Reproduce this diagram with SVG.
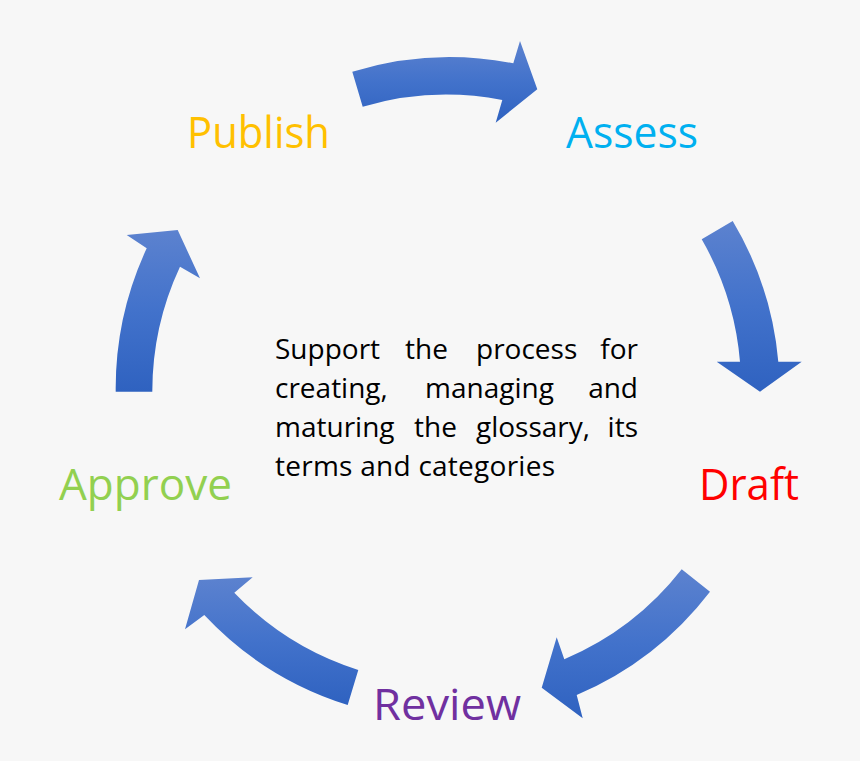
<svg xmlns="http://www.w3.org/2000/svg" width="860" height="761" viewBox="0 0 860 761">
<defs>
<linearGradient id="g" x1="0" y1="0" x2="0" y2="1">
<stop offset="0" stop-color="#5c82cf"/>
<stop offset="0.5" stop-color="#4272cb"/>
<stop offset="1" stop-color="#2f62c0"/>
</linearGradient>
<style>
.arrow{fill:url(#g);stroke:none}
.lbl{font-family:"Open Sans","Noto Sans",sans-serif;font-size:44px}
.body{font-family:"Open Sans","Noto Sans",sans-serif;font-size:28px;fill:#000}
</style>
</defs>
<rect width="860" height="761" fill="#f7f7f7"/>
<g id="connectors">
<path class="arrow" d="M 352.3 71.7 A 332 332 0 0 1 513.3 63.3 L 520 41 L 537.3 89.3 L 495.7 122.7 L 502.3 100 A 295 295 0 0 0 362.7 106.7 Z"/>
<path class="arrow" d="M 732.7 221 A 332 332 0 0 1 778.3 361.7 L 801.7 361.7 L 760 391.7 L 716.7 361.7 L 740 361.7 A 295 295 0 0 0 701.7 239.3 Z"/>
<path class="arrow" d="M 710 591.7 A 332 332 0 0 1 576.7 695 L 582.7 718.3 L 541.7 687.7 L 556.7 637.3 L 564.3 659.3 A 295 295 0 0 0 681.7 569.3 Z"/>
<path class="arrow" d="M 347.7 705 A 332 332 0 0 1 204.3 615 L 185 629.3 L 199 580 L 252.7 577.3 L 234.3 592.7 A 295 295 0 0 0 358.3 670 Z"/>
<path class="arrow" d="M 115.7 391.7 A 332 332 0 0 1 146.7 248.3 L 126.7 235 L 177.7 230 L 200 278.3 L 180 266.7 A 295 295 0 0 0 152.3 391.7 Z"/>
</g>
<g id="publish"><text class="lbl" x="187" y="148" fill="#ffc000" textLength="143" lengthAdjust="spacingAndGlyphs">Publish</text></g>
<g id="assess"><text class="lbl" x="566" y="148" fill="#00b0f0" textLength="132" lengthAdjust="spacingAndGlyphs">Assess</text></g>
<g id="draft"><text class="lbl" x="699" y="500" fill="#ff0000" textLength="100" lengthAdjust="spacingAndGlyphs">Draft</text></g>
<g id="review"><text class="lbl" x="373" y="720" fill="#7030a0" textLength="148" lengthAdjust="spacingAndGlyphs">Review</text></g>
<g id="approve"><text class="lbl" x="59" y="500" fill="#92d050" textLength="173" lengthAdjust="spacingAndGlyphs">Approve</text></g>
<g id="description" class="body">
<text x="275" y="359">Support</text>
<text x="405" y="359">the</text>
<text x="476" y="359">process</text>
<text x="638" y="359" text-anchor="end">for</text>
<text x="275" y="398">creating,</text>
<text x="425" y="398">managing</text>
<text x="638" y="398" text-anchor="end">and</text>
<text x="275" y="437">maturing</text>
<text x="414" y="437">the</text>
<text x="476" y="437">glossary,</text>
<text x="638" y="437" text-anchor="end">its</text>
<text x="275" y="476" textLength="280">terms and categories</text>
</g>
</svg>
